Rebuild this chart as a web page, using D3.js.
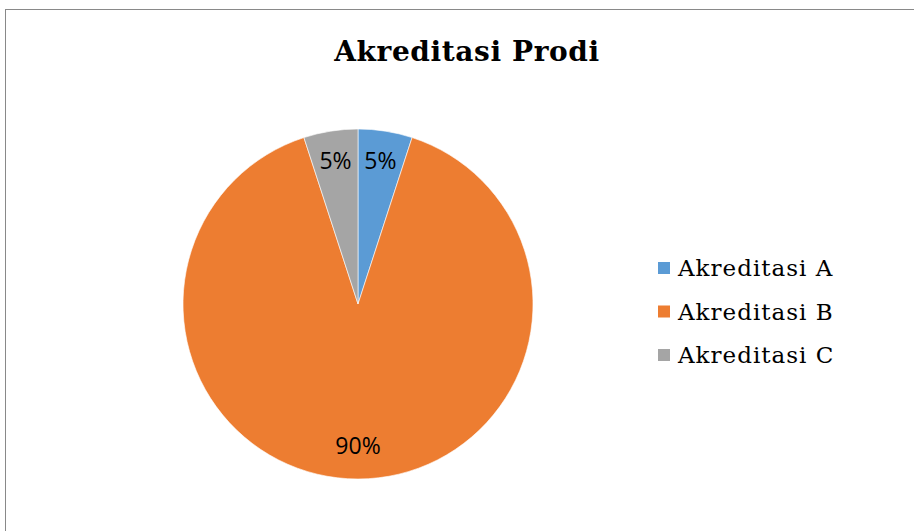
<!DOCTYPE html>
<html>
<head>
<meta charset="utf-8">
<script src="https://cdn.jsdelivr.net/npm/d3@7"></script>
<style>
  body { margin: 0; background: #fff; }
</style>
</head>
<body>
<div id="chart"></div>
<script>
// data
const categories = ["Akreditasi A", "Akreditasi B", "Akreditasi C"];
const values = [5, 90, 5];
const pctLabels = ["5%", "90%", "5%"];
const colors = ["#5B9BD5", "#ED7D31", "#A5A5A5"];

const width = 914, height = 531;
const svg = d3.select("#chart").append("svg")
  .attr("width", width)
  .attr("height", height);

// chart frame
svg.append("rect")
  .attr("x", 5.5).attr("y", 9.5)
  .attr("width", 920).attr("height", 540)
  .attr("fill", "#fff")
  .attr("stroke", "#898989")
  .attr("stroke-width", 1);

svg.append("text")
  .attr("x", 467).attr("y", 61)
  .attr("text-anchor", "middle")
  .style("font-family", "'DejaVu Serif', serif")
  .style("font-weight", "bold")
  .style("font-size", "28px")
  .style("letter-spacing", "0.6px")
  .text("Akreditasi Prodi");

const cx = 358, cy = 304, r = 175;
const pie = d3.pie().sort(null).value(d => d)(values);
const arc = d3.arc().innerRadius(0).outerRadius(r);
const labelArc = d3.arc().innerRadius(r * 0.82).outerRadius(r * 0.82);

const g = svg.append("g").attr("transform", `translate(${cx},${cy})`);
g.selectAll("path").data(pie).enter().append("path")
  .attr("d", arc)
  .attr("fill", (d, i) => colors[i])
  .attr("stroke", "#fff")
  .attr("stroke-width", 0.6);

g.selectAll("text.lbl").data(pie).enter().append("text")
  .attr("class", "lbl")
  .attr("transform", d => `translate(${labelArc.centroid(d)})`)
  .attr("text-anchor", "middle")
  .attr("dy", "0.3em")
  .style("font-family", "'Open Sans', sans-serif")
  .style("font-size", "23px")
  .attr("fill", "#000")
  .text((d, i) => pctLabels[i]);

// legend
const legend = svg.append("g").attr("transform", "translate(658,268)");
const row = legend.selectAll("g").data(categories).enter().append("g")
  .attr("transform", (d, i) => `translate(0,${i * 43.5})`);
row.append("rect")
  .attr("x", 0).attr("y", -6)
  .attr("width", 12).attr("height", 12)
  .attr("fill", (d, i) => colors[i]);
row.append("text")
  .attr("x", 20).attr("y", 0)
  .attr("dy", "0.35em")
  .style("font-family", "'DejaVu Serif', serif")
  .style("font-size", "23px")
  .style("letter-spacing", "1px")
  .text(d => d);
</script>
</body>
</html>
